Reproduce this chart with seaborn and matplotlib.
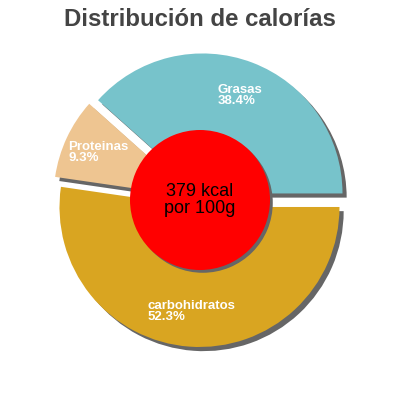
import matplotlib
matplotlib.use("Agg")
import matplotlib.pyplot as plt
import matplotlib.patheffects as pe
import seaborn as sns

sns.set_theme(style="white")
plt.rcParams["font.family"] = ["Liberation Sans", "DejaVu Sans"]

# values
nutrientes = ["Grasas", "Proteinas", "carbohidratos"]
porcentajes = [38.4, 9.3, 52.3]
colores = ["#77C3CB", "#EEC591", "#D9A521"]
titulo = "Distribución de calorías"
texto_centro = "379 kcal\npor 100g"

sombra = [pe.SimplePatchShadow(offset=(3, -3), shadow_rgbFace="#666666", alpha=1.0), pe.Normal()]
sombra_centro = [pe.SimplePatchShadow(offset=(2, -2), shadow_rgbFace="#666666", alpha=1.0), pe.Normal()]

fig = plt.figure(figsize=(4, 4), dpi=100)
ax = fig.add_axes([0, 0, 1, 1])

etiquetas = iter(nutrientes)
wedges, _, autotexts = ax.pie(
    porcentajes,
    colors=colores,
    startangle=0,
    counterclock=True,
    explode=[0.05] * len(porcentajes),
    autopct=lambda p: f"{next(etiquetas)}\n{p:.1f}%",
    pctdistance=0.75,
    wedgeprops=dict(linewidth=0, path_effects=sombra),
    textprops=dict(color="white", fontsize=9.5, fontweight="bold"),
)
for t in autotexts:
    t.set_multialignment("left")
    t.set_linespacing(0.85)

# red disc in the middle
ax.pie([1], radius=0.5, colors=["#FF0000"],
       wedgeprops=dict(linewidth=0, path_effects=sombra_centro))
ax.text(0, 0, texto_centro, ha="center", va="center", fontsize=13,
        color="black", linespacing=0.95)

lim = 200 / 140
ax.set_xlim(-lim, lim)
ax.set_ylim(-lim, lim)
ax.set_aspect("equal")
ax.axis("off")

fig.text(0.5, 1 - 26 / 400, titulo, ha="center", va="baseline",
         fontsize=17.3, fontweight="bold", color="#444444")

fig.savefig("out.png", dpi=100)
